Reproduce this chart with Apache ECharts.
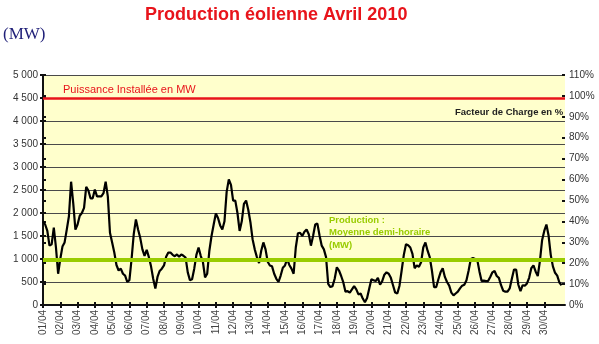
<!DOCTYPE html>
<html>
<head>
<meta charset="utf-8">
<script src="https://cdn.jsdelivr.net/npm/echarts@6/dist/echarts.min.js"></script>
<style>
  html, body { margin: 0; padding: 0; background: #ffffff; }
  #chart { width: 599px; height: 344px; }
</style>
</head>
<body>
<div id="chart"></div>
<script>
// Day labels along the time axis (one tick per day, April 2010)
const dayLabels = [
  '01/04','02/04','03/04','04/04','05/04','06/04','07/04','08/04','09/04','10/04',
  '11/04','12/04','13/04','14/04','15/04','16/04','17/04','18/04','19/04','20/04',
  '21/04','22/04','23/04','24/04','25/04','26/04','27/04','28/04','29/04','30/04'
];

// Wind output in MW, one reading every 3 hours from 01/04 00:00
const production = [
  1820, 1750, 1610, 1290, 1320, 1680, 1250, 680,
  1000, 1270, 1360, 1640, 1930, 2680, 2210, 1640,
  1750, 1940, 2000, 2110, 2570, 2490, 2320, 2320,
  2510, 2360, 2360, 2360, 2430, 2680, 2360, 1570,
  1360, 1140, 870, 750, 790, 680, 640, 500,
  540, 1000, 1540, 1860, 1640, 1460, 1210, 1070,
  1200, 1040, 840, 570, 360, 610, 740, 790,
  860, 1050, 1140, 1140, 1090, 1060, 1100, 1050,
  1100, 1070, 1030, 710, 540, 560, 790, 1090,
  1250, 1070, 940, 600, 680, 1180, 1500, 1750,
  1990, 1890, 1730, 1640, 1820, 2460, 2730, 2610,
  2270, 2270, 2000, 1610, 1820, 2200, 2270, 2070,
  1800, 1430, 1210, 1040, 910, 1180, 1360, 1210,
  940, 860, 840, 680, 570, 500, 640, 810,
  860, 1000, 870, 790, 680, 1250, 1560, 1570,
  1500, 1590, 1640, 1540, 1290, 1500, 1750, 1770,
  1510, 1290, 1210, 1040, 460, 390, 410, 570,
  820, 750, 630, 490, 290, 300, 270, 340,
  410, 340, 230, 250, 140, 60, 150, 360,
  560, 540, 520, 590, 440, 520, 660, 710,
  680, 590, 430, 270, 250, 420, 750, 1090,
  1320, 1300, 1250, 1110, 800, 860, 830, 930,
  1250, 1360, 1180, 1040, 750, 390, 390, 560,
  710, 800, 610, 500, 420, 270, 210, 250,
  290, 360, 420, 440, 540, 750, 1000, 1020,
  1000, 980, 730, 520, 530, 520, 520, 610,
  710, 740, 630, 590, 430, 310, 290, 290,
  360, 570, 770, 770, 440, 300, 430, 420,
  470, 590, 800, 860, 730, 630, 960, 1410,
  1610, 1750, 1510, 1090, 840, 700, 640, 490,
  430
];

const installedCapacity = 4500;   // MW
const halfHourlyMean = 975;       // MW, mean of the month

const STEP_DAYS = 3 / 24;
const dayTicks = dayLabels.map((_, i) => i);
const productionSeries = production.map((v, i) => [i * STEP_DAYS, v]);

function mwLabel(v) {
  if (v >= 1000) {
    return Math.floor(v / 1000) + ' ' + String(v % 1000).padStart(3, '0');
  }
  return String(v);
}

const FONT = 'Liberation Sans, Arial, sans-serif';
const axisBlack = { color: '#111', width: 2 };

const chart = echarts.init(document.getElementById('chart'), null, { renderer: 'canvas' });

chart.setOption({
  animation: false,
  backgroundColor: '#ffffff',
  title: {
    text: 'Production éolienne Avril 2010',
    left: 140,
    top: 1,
    textStyle: { color: '#e8141b', fontSize: 18, fontWeight: 'bold', fontFamily: FONT }
  },
  grid: {
    left: 43, right: 34, top: 75, bottom: 39,
    show: true,
    backgroundColor: '#ffffcc',
    borderWidth: 0
  },
  xAxis: [
    {
      type: 'value', min: 0, max: 30.2,
      axisLine: { lineStyle: axisBlack },
      axisTick: { show: true, customValues: dayTicks, length: 3, lineStyle: { color: '#111', width: 2 } },
      axisLabel: {
        customValues: dayTicks,
        rotate: 90, margin: 5,
        fontSize: 10, color: '#444', fontFamily: FONT,
        formatter: (v) => dayLabels[Math.round(v)] || ''
      },
      splitLine: { show: false }
    },
    {
      type: 'value', min: 0, max: 30.2, position: 'bottom',
      axisLine: { show: false },
      axisTick: { show: true, inside: true, customValues: dayTicks, length: 3, lineStyle: { color: '#111', width: 2 } },
      axisLabel: { show: false },
      splitLine: { show: false }
    }
  ],
  yAxis: [
    {
      type: 'value', min: 0, max: 5000, interval: 500, position: 'left',
      axisLine: { show: true, lineStyle: axisBlack },
      axisTick: { show: true, length: 3, lineStyle: { color: '#111', width: 2 } },
      axisLabel: { margin: 5, fontSize: 10, color: '#333', fontFamily: FONT, formatter: mwLabel },
      splitLine: { show: true, lineStyle: { color: '#4a4a4a', width: 1 } }
    },
    {
      type: 'value', min: 0, max: 110, interval: 10, position: 'right',
      axisLine: { show: true, lineStyle: axisBlack },
      axisTick: { show: true, length: 3, lineStyle: { color: '#111', width: 2 } },
      axisLabel: { margin: 4, fontSize: 10, color: '#333', fontFamily: FONT, formatter: '{value}%' },
      splitLine: { show: false }
    },
    {
      type: 'value', min: 0, max: 5000, interval: 500, position: 'left',
      axisLine: { show: false },
      axisTick: { show: true, inside: true, length: 3, lineStyle: { color: '#111', width: 2 } },
      axisLabel: { show: false },
      splitLine: { show: false }
    },
    {
      type: 'value', min: 0, max: 110, interval: 10, position: 'right',
      axisLine: { show: false },
      axisTick: { show: true, inside: true, length: 3, lineStyle: { color: '#111', width: 2 } },
      axisLabel: { show: false },
      splitLine: { show: false }
    }
  ],
  series: [
    {
      name: 'Production',
      type: 'line',
      xAxisIndex: 0,
      yAxisIndex: 0,
      data: productionSeries,
      showSymbol: false,
      smooth: false,
      lineStyle: { color: '#000000', width: 2.2 },
      z: 3,
      markLine: {
        silent: true,
        symbol: 'none',
        label: { show: false },
        z: 4,
        data: [
          { yAxis: installedCapacity, lineStyle: { color: '#e8141b', width: 2.5, type: 'solid' } },
          { yAxis: halfHourlyMean, lineStyle: { color: '#99cc00', width: 4, type: 'solid' } }
        ]
      }
    }
  ],
  graphic: [
    {
      type: 'text', left: 3, top: 26,
      style: { text: '(MW)', fill: '#1f1f78', font: '17px "Liberation Serif", "Times New Roman", serif' }
    },
    {
      type: 'text', left: 63, top: 84,
      style: { text: 'Puissance Installée en MW', fill: '#e8141b', font: '11px ' + FONT }
    },
    {
      type: 'text', left: 455, top: 107,
      style: { text: 'Facteur de Charge en %', fill: '#222', font: 'bold 9.5px ' + FONT }
    },
    {
      type: 'text', left: 329, top: 214,
      style: {
        text: 'Production :\nMoyenne demi-horaire\n(MW)',
        fill: '#99cc00', font: 'bold 9.5px ' + FONT, lineHeight: 12.5
      }
    }
  ]
});
</script>
</body>
</html>
